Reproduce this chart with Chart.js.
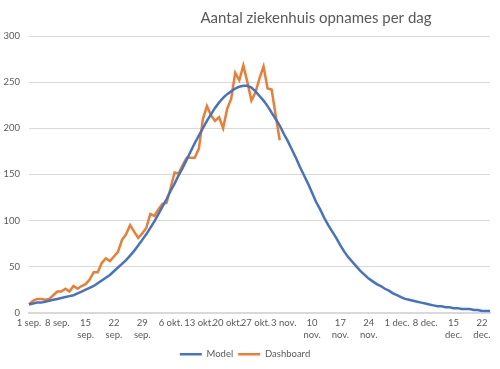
<!DOCTYPE html>
<html>
<head>
<meta charset="utf-8">
<script src="https://cdn.jsdelivr.net/npm/chart.js@4"></script>
<style>
  html, body { margin: 0; padding: 0; background: #fff; }
  #wrap { position: relative; width: 500px; height: 369px; }
</style>
</head>
<body>
<div id="wrap"><canvas id="chart"></canvas></div>
<script>
const chartTitle = 'Aantal ziekenhuis opnames per dag';

// months shown on the axis (name, number of days used)
const months = [['sep.', 30], ['okt.', 31], ['nov.', 30], ['dec.', 24]];

// labels printed every 7 days
const weekLabels = ['1 sep.', '8 sep.', ['15', 'sep.'], ['22', 'sep.'], ['29', 'sep.'],
  '6 okt.', '13 okt.', '20 okt.', '27 okt.', '3 nov.', ['10', 'nov.'], ['17', 'nov.'],
  ['24', 'nov.'], '1 dec.', '8 dec.', ['15', 'dec.'], ['22', 'dec.']];

// Model, 1 sep .. 24 dec
const model = [
  9, 10, 11, 11, 12, 13, 14, 15, 16, 17,
  18, 19, 21, 23, 25, 27, 29, 32, 35, 38,
  41, 45, 49, 53, 57, 62, 67, 73, 79, 85,
  92, 99, 107, 115, 123, 132, 140, 149, 157, 166,
  175, 184, 192, 200, 208, 215, 222, 228, 233, 237,
  240, 243, 245, 246, 246, 244, 240, 235, 230, 224,
  217, 210, 203, 194, 186, 177, 168, 158, 149, 140,
  130, 120, 112, 103, 95, 88, 81, 73, 66, 60,
  55, 50, 45, 41, 37, 34, 31, 29, 26, 24,
  21, 19, 17, 15, 14, 13, 12, 11, 10, 9,
  8, 7, 7, 6, 6, 5, 5, 4, 4, 4,
  3, 3, 2, 2, 2
];

// Dashboard, 1 sep .. 2 nov
const dashboard = [
  9, 13, 15, 15, 14, 15, 19, 23, 23, 26,
  23, 29, 26, 29, 31, 36, 44, 44, 54, 59,
  56, 61, 66, 79, 85, 95, 88, 81, 86, 92,
  107, 105, 112, 118, 119, 135, 152, 151, 160, 168,
  168, 168, 178, 210, 224, 214, 208, 212, 200, 221,
  232, 260, 252, 268, 250, 230, 239, 254, 267, 243,
  242, 214, 187
];

const days = [];
months.forEach(([name, count]) => {
  for (let d = 1; d <= count; d++) days.push(d + ' ' + name);
});

const textColor = '#595959';
const fontFamily = 'Lato, "Open Sans", sans-serif';

const titlePlugin = {
  id: 'offsetTitle',
  afterDraw(chart) {
    const ctx = chart.ctx;
    ctx.save();
    ctx.font = '15px ' + fontFamily;
    ctx.fillStyle = textColor;
    ctx.textAlign = 'center';
    ctx.textBaseline = 'middle';
    ctx.fillText(chartTitle, 316, 18);
    ctx.restore();
  }
};

new Chart(document.getElementById('chart'), {
  type: 'line',
  data: {
    labels: days,
    datasets: [
      { label: 'Model', data: model, borderColor: '#4472C4', backgroundColor: '#4472C4',
        borderWidth: 2.5, pointRadius: 0, tension: 0 },
      { label: 'Dashboard', data: dashboard, borderColor: '#ED7D31', backgroundColor: '#ED7D31',
        borderWidth: 2.5, pointRadius: 0, tension: 0 }
    ]
  },
  options: {
    responsive: true,
    maintainAspectRatio: false,
    animation: false,
    layout: { padding: { top: 36, right: 10, left: 0, bottom: 0 } },
    plugins: {
      title: { display: false },
      tooltip: { enabled: false },
      legend: {
        position: 'bottom',
        labels: {
          usePointStyle: true,
          pointStyle: 'line',
          pointStyleWidth: 22,
          color: textColor,
          font: { family: fontFamily, size: 9.5 },
          padding: 5
        }
      }
    },
    scales: {
      x: {
        offset: false,
        grid: { display: false, drawTicks: false },
        border: { color: '#d9d9d9', width: 2 },
        ticks: {
          autoSkip: false,
          maxRotation: 0,
          color: textColor,
          font: { family: fontFamily, size: 9.5, lineHeight: 1.25 },
          padding: 4,
          callback: (v, i) => (i % 7 === 0 ? weekLabels[i / 7] : '')
        }
      },
      y: {
        min: 0,
        max: 300,
        grid: { color: '#d9d9d9', drawTicks: false },
        border: { display: false },
        ticks: { stepSize: 50, color: textColor, font: { family: fontFamily, size: 9.5 }, padding: 9 },
        afterFit: (s) => { s.width = 29; }
      }
    }
  },
  plugins: [titlePlugin]
});
</script>
</body>
</html>
